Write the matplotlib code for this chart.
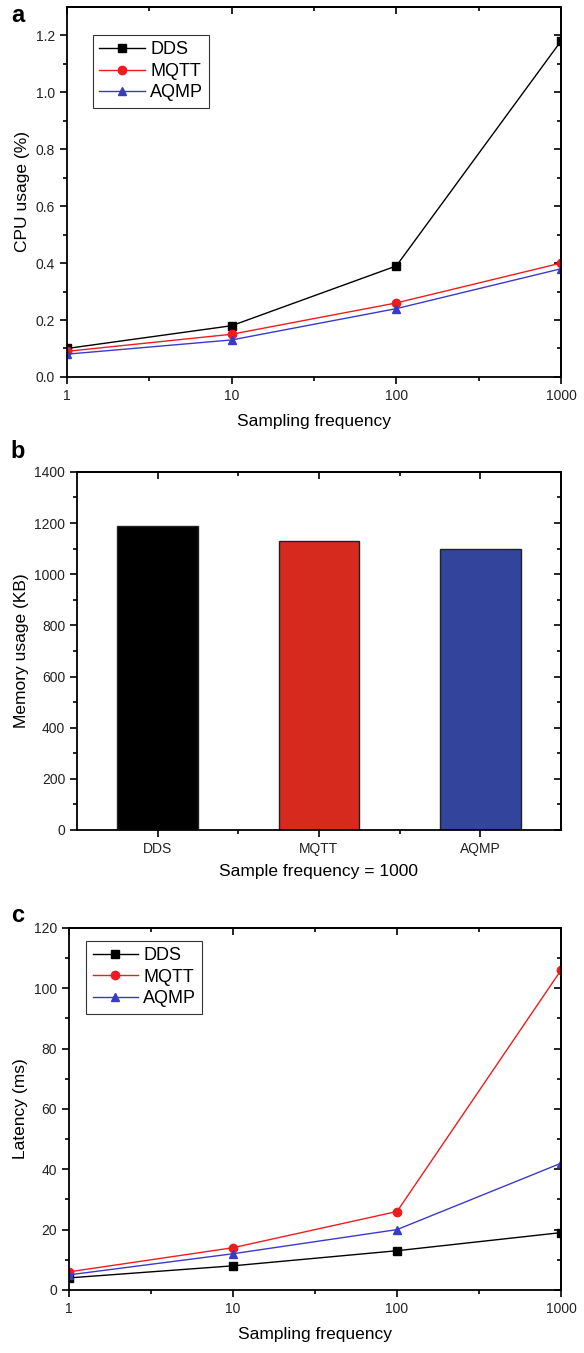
import numpy as np
import matplotlib
matplotlib.use("Agg")
import matplotlib.pyplot as plt

plt.rcParams['font.family'] = ['Liberation Sans', 'DejaVu Sans']

# data
freq = [1, 10, 100, 1000]
freq_labels = ['1', '10', '100', '1000']

cpu_dds = [0.10, 0.18, 0.39, 1.18]
cpu_mqtt = [0.09, 0.15, 0.26, 0.40]
cpu_aqmp = [0.08, 0.13, 0.24, 0.38]

protocols = ['DDS', 'MQTT', 'AQMP']
memory_kb = [1190, 1130, 1100]
bar_colors = ['#000000', '#d62a1f', '#33449c']

lat_dds = [4, 8, 13, 19]
lat_mqtt = [6, 14, 26, 106]
lat_aqmp = [5, 12, 20, 42]

line_styles = {
    'DDS': dict(color='black', marker='s'),
    'MQTT': dict(color='#ee1c1c', marker='o'),
    'AQMP': dict(color='#3a3ac8', marker='^'),
}

TICK_FS = 10
LABEL_FS = 12.5


def style_axes(ax):
    for s in ax.spines.values():
        s.set_linewidth(1.3)
    ax.tick_params(which='both', direction='out', top=False, right=False,
                   labelsize=TICK_FS, width=1.2, labelcolor='#222222')
    ax.tick_params(which='major', length=5)
    ax.tick_params(which='minor', length=3)


def mirror_ticks(ax):
    # top/right ticks point inwards, bottom/left point out
    top = ax.secondary_xaxis('top')
    right = ax.secondary_yaxis('right')
    top.set_xticks(ax.get_xticks())
    top.set_xticks(ax.get_xticks(minor=True), minor=True)
    right.set_yticks(ax.get_yticks())
    right.set_yticks(ax.get_yticks(minor=True), minor=True)
    for sec in (top, right):
        sec.tick_params(which='both', direction='in', width=1.2,
                        labeltop=False, labelright=False, labelbottom=False, labelleft=False)
        sec.tick_params(which='major', length=5)
        sec.tick_params(which='minor', length=3)
        for s in sec.spines.values():
            s.set_linewidth(1.3)


def line_panel(ax, series, ylim, ymajor, yminor, ylabel, legend_anchor):
    for name, vals in series:
        ax.plot(freq, vals, label=name, lw=1.0, markersize=6, **line_styles[name])
    ax.set_xscale('log')
    ax.set_xlim(freq[0], freq[-1])
    ax.set_xticks(freq)
    ax.set_xticklabels(freq_labels)
    ax.set_xticks([10 ** 0.5, 10 ** 1.5, 10 ** 2.5], minor=True)
    ax.xaxis.set_minor_formatter(plt.NullFormatter())
    ax.set_ylim(*ylim)
    ax.set_yticks(ymajor)
    ax.set_yticks(yminor, minor=True)
    ax.set_xlabel('Sampling frequency', fontsize=LABEL_FS, labelpad=8)
    ax.set_ylabel(ylabel, fontsize=LABEL_FS)
    style_axes(ax)
    mirror_ticks(ax)
    leg = ax.legend(loc='upper left', bbox_to_anchor=legend_anchor, fontsize=13,
                    frameon=True, fancybox=False, edgecolor='black',
                    handlelength=2.5, handletextpad=0.3, borderpad=0.35,
                    labelspacing=0.25, borderaxespad=0)
    leg.get_frame().set_linewidth(0.8)


fig = plt.figure(figsize=(5.84, 13.53), dpi=100)

# a: CPU usage
ax_a = fig.add_axes([0.1147, 0.7214, 0.8459, 0.2735])
line_panel(ax_a, [('DDS', cpu_dds), ('MQTT', cpu_mqtt), ('AQMP', cpu_aqmp)],
           (0, 1.3), np.arange(0, 1.21, 0.2), np.arange(0.1, 1.3, 0.2),
           'CPU usage (%)', (0.053, 0.924))
ax_a.yaxis.set_major_formatter(plt.FormatStrFormatter('%.1f'))

# b: memory usage
ax_b = fig.add_axes([0.1318, 0.3866, 0.8288, 0.2646])
xpos = np.arange(1, len(protocols) + 1)
ax_b.bar(xpos, memory_kb, width=0.5, color=bar_colors, edgecolor='#222222', linewidth=1.0)
ax_b.set_xlim(0.5, 3.5)
ax_b.set_xticks(xpos)
ax_b.set_xticklabels(protocols)
ax_b.set_xticks([1.5, 2.5], minor=True)
ax_b.set_ylim(0, 1400)
ax_b.set_yticks(np.arange(0, 1401, 200))
ax_b.set_yticks(np.arange(100, 1400, 200), minor=True)
ax_b.set_xlabel('Sample frequency = 1000', fontsize=LABEL_FS, labelpad=6)
ax_b.set_ylabel('Memory usage (KB)', fontsize=LABEL_FS)
style_axes(ax_b)
mirror_ticks(ax_b)

# c: latency
ax_c = fig.add_axes([0.1182, 0.0466, 0.8425, 0.2676])
line_panel(ax_c, [('DDS', lat_dds), ('MQTT', lat_mqtt), ('AQMP', lat_aqmp)],
           (0, 120), np.arange(0, 121, 20), np.arange(10, 120, 20),
           'Latency (ms)', (0.035, 0.964))

# panel letters
for letter, ypx in [('a', 16), ('b', 452), ('c', 915)]:
    fig.text(18 / 584, 1 - ypx / 1353, letter, fontsize=17, fontweight='bold',
             ha='center', va='center')

fig.savefig('out.png', dpi=100)
